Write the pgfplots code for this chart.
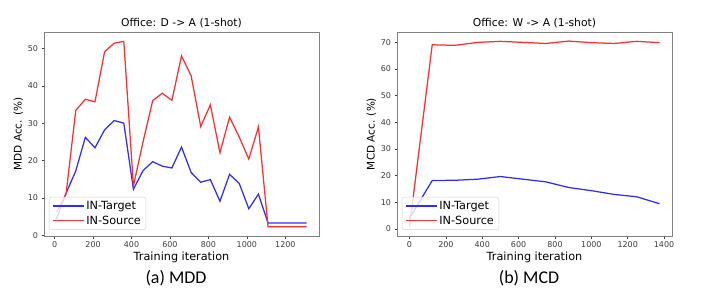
\documentclass[border=0pt]{standalone}
\usepackage{pgfplots}
\pgfplotsset{compat=1.18}
\usepackage{fontspec}
\setmainfont{DejaVu Sans}
\newfontfamily\capfont{Carlito}
\definecolor{lblue}{RGB}{45,45,255}
\definecolor{lred}{RGB}{255,45,45}
\definecolor{framec}{RGB}{130,130,130}
\definecolor{tickc}{RGB}{60,60,60}

\pgfplotstableread{
x t s
10 4.4 6.2
60 11.3 11.1
110 17.2 33.4
160 26.2 36.4
210 23.4 35.7
260 28.2 49.1
310 30.7 51.4
360 30.0 51.9
410 12.3 13.2
460 17.3 25.0
510 19.7 36.0
560 18.5 38.0
610 18.0 36.1
660 23.6 48.0
710 16.8 42.7
760 14.2 29.1
810 14.9 34.9
860 9.1 22.1
910 16.3 31.6
960 13.9 26.3
1010 7.1 20.4
1060 11.0 29.0
1110 3.3 2.3
1160 3.3 2.3
1210 3.3 2.3
1260 3.3 2.3
1310 3.3 2.3
}\mddtable

\pgfplotstableread{
x t s
0 4.1 0.9
125 18.2 69.1
250 18.3 68.9
375 18.7 70.0
500 19.7 70.4
625 18.7 70.0
750 17.7 69.6
875 15.6 70.5
1000 14.4 69.9
1125 13.0 69.6
1250 12.1 70.4
1375 9.5 69.9
}\mcdtable

\pgfplotsset{
  myaxis/.style={
    scale only axis,
    width=275bp, height=204bp,
    axis line style={framec, line width=0.9bp},
    tick align=outside,
    xtick pos=bottom, ytick pos=left,
    major tick length=2.5bp,
    every tick/.style={tickc, line width=0.5bp},
    tick label style={font=\fontsize{8}{9}\selectfont, text=tickc},
    /pgf/number format/assume math mode=true,
    /pgf/number format/1000 sep={},
    xlabel style={font=\fontsize{11.3}{13}\selectfont, yshift=3bp},
    ylabel style={font=\fontsize{10.5}{12}\selectfont, yshift=-2bp},
    title style={font=\fontsize{10.8}{12}\selectfont, yshift=-5bp},
    legend style={at={(0.018,0.03)}, anchor=south west,
      draw=gray!35, rounded corners=2bp, fill=white, fill opacity=0.8, text opacity=1,
      font=\fontsize{11.3}{12}\selectfont, inner xsep=3bp, inner ysep=2bp,
      row sep=1bp},
    legend cell align=left,
    legend image code/.code={\draw[#1] (2bp,0bp) -- (25bp,0bp); \path (0bp,0bp) -- (31bp,0bp);},
    every axis plot/.append style={line width=1.25bp},
  }
}

\begin{document}
\begin{tikzpicture}[x=1bp,y=1bp]
\useasboundingbox (0,0) rectangle (706,300);
\begin{axis}[myaxis, at={(44bp,64bp)}, anchor=south west,
  xmin=-55, xmax=1375, ymin=-0.2, ymax=54.4,
  xtick={0,200,400,600,800,1000,1200},
  ytick={0,10,20,30,40,50},
  title={Office: D -> A (1-shot)},
  xlabel={Training iteration}, ylabel={MDD Acc. (\%)}]
\addplot[lblue] table[x=x,y=t] {\mddtable};
\addlegendentry{IN-Target}
\addplot[lred] table[x=x,y=s] {\mddtable};
\addlegendentry{IN-Source}
\end{axis}
\begin{axis}[myaxis, at={(397bp,64bp)}, anchor=south west,
  xmin=-68.75, xmax=1443.75, ymin=-2.6, ymax=73.9,
  xtick={0,200,400,600,800,1000,1200,1400},
  ytick={0,10,20,30,40,50,60,70},
  title={Office: W -> A (1-shot)},
  xlabel={Training iteration}, ylabel={MCD Acc. (\%)}]
\addplot[lblue] table[x=x,y=t] {\mcdtable};
\addlegendentry{IN-Target}
\addplot[lred] table[x=x,y=s] {\mcdtable};
\addlegendentry{IN-Source}
\end{axis}
\node[font=\capfont\fontsize{18}{20}\selectfont] at (176,22) {(a) MDD};
\node[font=\capfont\fontsize{18}{20}\selectfont] at (529,22) {(b) MCD};
\end{tikzpicture}
\end{document}
